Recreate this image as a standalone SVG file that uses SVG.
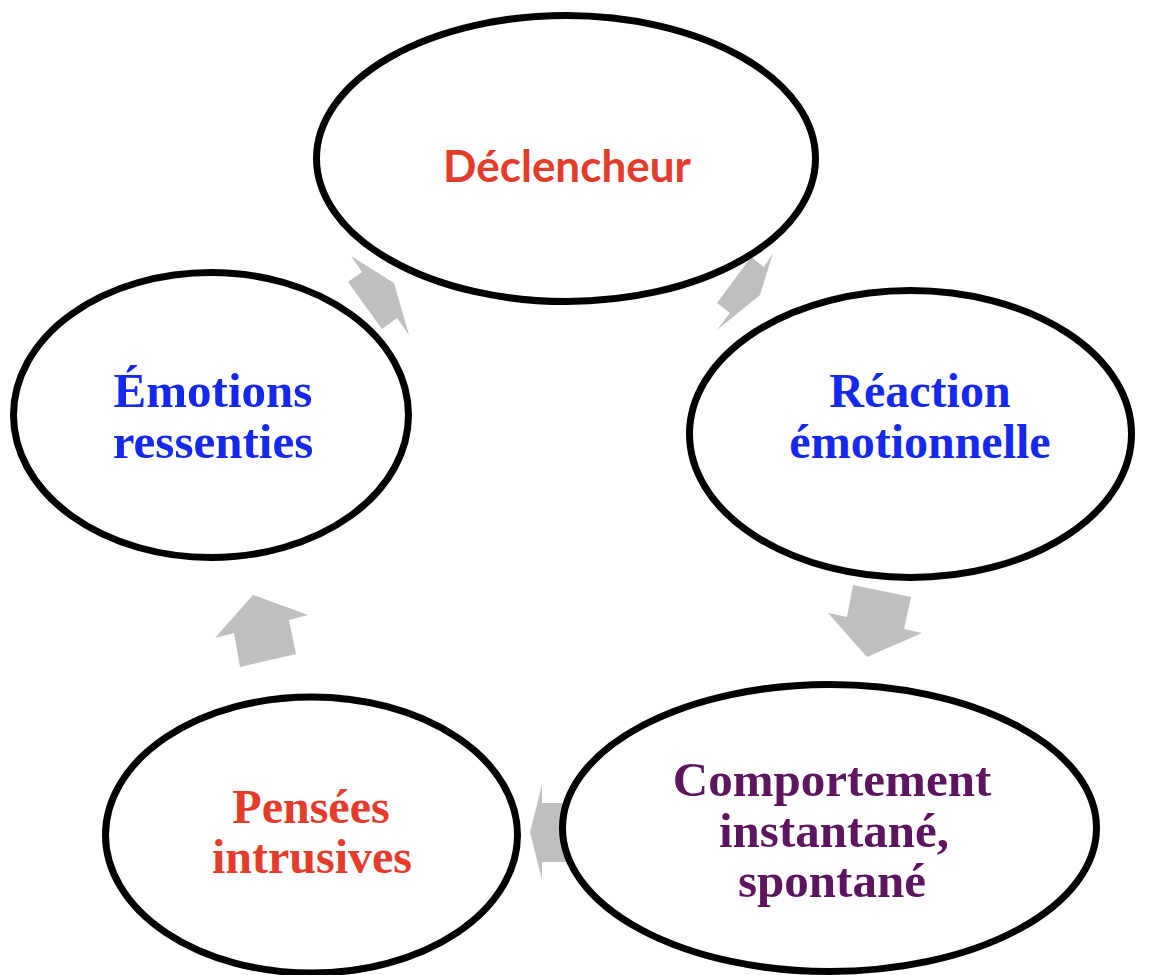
<svg xmlns="http://www.w3.org/2000/svg" width="1150" height="975" viewBox="0 0 1150 975">
<style>
.node ellipse{fill:#fff;stroke:#000;stroke-width:7}
.arrow{fill:#bfbfbf;stroke:none}
.serif{font-family:"Liberation Serif","Times New Roman",serif;font-weight:bold;text-anchor:middle}
.sans{font-family:Lato,"Open Sans","Liberation Sans",sans-serif;font-weight:bold;text-anchor:middle}
.blue{fill:#1428f0}
.red{fill:#e53b2b}
.purple{fill:#5e1560}
</style>
<rect width="1150" height="975" fill="#fff"/>
<g id="connectors">
<polygon class="arrow" points="348,282 362,272 351,256 394,283 409,335 397,318 382,329"/>
<polygon class="arrow" points="751,257 764,267 773,253 760,295 717,330 730,313 717,303"/>
<polygon class="arrow" points="853,585 911,597 904,629 922,633 867,657 828,613 847,617"/>
<polygon class="arrow" points="253,595 308,615 289,620 296,654 240,667 234,633 215,638"/>
<polygon class="arrow" points="530,832 542,785 542,803 566,803 566,862 542,862 542,880"/>
</g>
<g id="node-declencheur" class="node">
<ellipse cx="566" cy="158.5" rx="249.5" ry="143"/>
<text class="sans red" x="567" y="182" font-size="44">Déclencheur</text>
</g>
<g id="node-reaction" class="node">
<ellipse cx="910.5" cy="434" rx="221" ry="143.5"/>
<text class="serif blue" x="920" y="407" font-size="48">Réaction</text>
<text class="serif blue" x="920" y="458" font-size="48">émotionnelle</text>
</g>
<g id="node-comportement" class="node">
<ellipse cx="829.5" cy="828" rx="267" ry="143.5"/>
<text class="serif purple" x="832" y="796" font-size="49">Comportement</text>
<text class="serif purple" x="834" y="847" font-size="49">instantané,</text>
<text class="serif purple" x="832" y="897" font-size="49">spontané</text>
</g>
<g id="node-pensees" class="node">
<ellipse cx="311.5" cy="835" rx="206" ry="138"/>
<text class="serif red" x="311" y="823" font-size="48">Pensées</text>
<text class="serif red" x="312" y="873" font-size="48">intrusives</text>
</g>
<g id="node-emotions" class="node">
<ellipse cx="211" cy="415" rx="197.5" ry="142.5"/>
<text class="serif blue" x="213" y="407" font-size="49">Émotions</text>
<text class="serif blue" x="213" y="458" font-size="49">ressenties</text>
</g>
</svg>
